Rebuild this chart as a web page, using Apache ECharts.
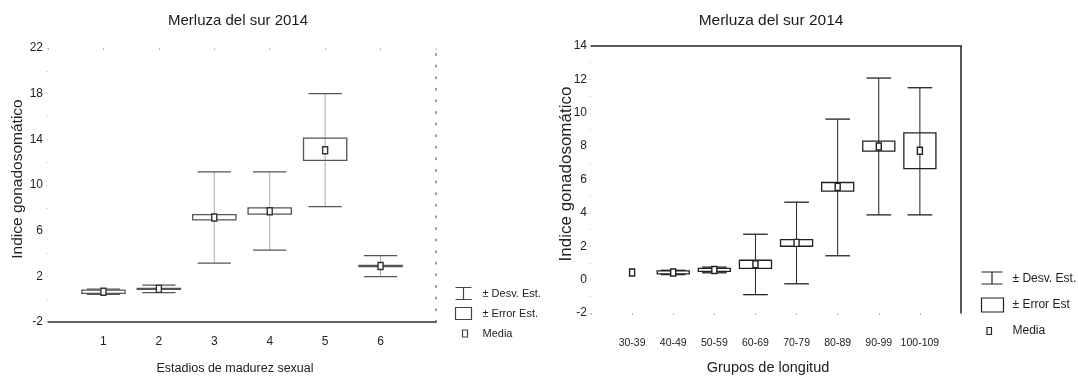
<!DOCTYPE html>
<html>
<head>
<meta charset="utf-8">
<script src="https://cdn.jsdelivr.net/npm/echarts@6/dist/echarts.min.js"></script>
<style>
  html, body { margin: 0; padding: 0; background: #fff; }
  #chart { width: 1078px; height: 380px; }
</style>
</head>
<body>
<div id="chart"></div>
<script>
// panel izquierdo: estadios de madurez sexual
const stages = ['1', '2', '3', '4', '5', '6'];
const stageMean = [0.65, 0.9, 7.15, 7.7, 13.05, 2.9];
const stageSdLow = [0.42, 0.57, 3.15, 4.3, 8.1, 1.98];
const stageSdHigh = [0.88, 1.23, 11.15, 11.15, 18.0, 3.82];
const stageSeLow = [0.5, 0.85, 6.95, 7.45, 12.15, 2.85];
const stageSeHigh = [0.8, 0.95, 7.4, 8.0, 14.1, 2.95];

// panel derecho: grupos de longitud (30-39 has a single value, no spread)
const lengths = ['30-39', '40-49', '50-59', '60-69', '70-79', '80-89', '90-99', '100-109'];
const lenMean = [0.43, 0.43, 0.58, 0.92, 2.2, 5.56, 7.98, 7.72];
const lenSdLow = [null, 0.3, 0.41, -0.9, -0.25, 1.43, 3.88, 3.88];
const lenSdHigh = [null, 0.56, 0.75, 2.72, 4.64, 9.62, 12.08, 11.5];
const lenSeLow = [null, 0.35, 0.5, 0.68, 2.0, 5.3, 7.7, 6.65];
const lenSeHigh = [null, 0.52, 0.68, 1.16, 2.4, 5.82, 8.3, 8.8];

const legendText = {
  sdL: '± Desv. Est.', seL: '± Error Est.', meanL: 'Media',
  sdR: '± Desv. Est.', seR: '± Error Est', meanR: 'Media'
};

const font = "'Liberation Sans', Arial, sans-serif";

const toRows = (means, sdLo, sdHi, seLo, seHi) =>
  means.map((m, i) => [i + 1, m, sdLo[i], sdHi[i], seLo[i], seHi[i]]);

const stageRows = toRows(stageMean, stageSdLow, stageSdHigh, stageSeLow, stageSeHigh);
const lenRows = toRows(lenMean, lenSdLow, lenSdHigh, lenSeLow, lenSeHigh);

const bad = v => v == null || isNaN(v);

function whiskers(color, stemColor) {
  return (params, api) => {
    const x = api.value(0), lo = api.value(2), hi = api.value(3);
    if (bad(lo) || bad(hi)) return;
    const a = api.coord([x, lo]), b = api.coord([x, hi]);
    const half = api.size([1, 0])[0] * 0.3;
    const st = { stroke: color, lineWidth: 1.3 };
    return {
      type: 'group',
      children: [
        { type: 'line', shape: { x1: a[0], y1: a[1], x2: b[0], y2: b[1] }, style: { stroke: stemColor, lineWidth: 1 } },
        { type: 'line', shape: { x1: a[0] - half, y1: a[1], x2: a[0] + half, y2: a[1] }, style: st },
        { type: 'line', shape: { x1: b[0] - half, y1: b[1], x2: b[0] + half, y2: b[1] }, style: st }
      ]
    };
  };
}

function boxes(color) {
  return (params, api) => {
    const x = api.value(0), lo = api.value(4), hi = api.value(5);
    if (bad(lo) || bad(hi)) return;
    const a = api.coord([x, lo]), b = api.coord([x, hi]);
    const half = api.size([1, 0])[0] * 0.39;
    return {
      type: 'rect',
      shape: { x: a[0] - half, y: b[1], width: half * 2, height: a[1] - b[1] },
      style: { fill: 'none', stroke: color, lineWidth: 1.3 }
    };
  };
}

function means(color) {
  return (params, api) => {
    const p = api.coord([api.value(0), api.value(1)]);
    return {
      type: 'rect',
      shape: { x: p[0] - 2.5, y: p[1] - 3.5, width: 5, height: 7 },
      style: { fill: '#fff', stroke: color, lineWidth: 1.4 }
    };
  };
}

const leftColor = '#555';
const rightColor = '#222';
const faint = '#d4d4d4';

const chart = echarts.init(document.getElementById('chart'));

const option = {
  backgroundColor: '#fff',
  animation: false,
  textStyle: { fontFamily: font },
  graphic: [
    { type: 'text', x: 238, y: 21, style: { text: 'Merluza del sur 2014', fontSize: 15, fontFamily: font, fill: '#1a1a1a', align: 'center', verticalAlign: 'middle' } },
    { type: 'text', x: 771, y: 21, style: { text: 'Merluza del sur 2014', fontSize: 15.5, fontFamily: font, fill: '#1a1a1a', align: 'center', verticalAlign: 'middle' } }
  ],
  grid: [
    { left: 48, top: 48, width: 388, height: 278.5 },
    { left: 591, top: 46, width: 370, height: 275 }
  ],
  legend: [
    {
      left: 453, top: 284, orient: 'vertical', padding: 0, itemWidth: 22, itemHeight: 14, itemGap: 1,
      selectedMode: false,
      data: [
        { name: 'sdL', icon: 'path://M0,0 M22,14 M0,1 L16,1 M8,1 L8,13 M0,13 L16,13' },
        { name: 'seL', icon: 'path://M0,0 M22,14 M0,1 L16,1 L16,13 L0,13 Z' },
        { name: 'meanL', icon: 'path://M0,0 M22,14 M7,3.5 L12,3.5 L12,10.5 L7,10.5 Z' }
      ],
      formatter: n => legendText[n],
      itemStyle: { color: 'none', borderColor: '#444', borderWidth: 1.2 },
      textStyle: { fontFamily: font, fontSize: 11, color: '#222' }
    },
    {
      left: 979, top: 268.5, orient: 'vertical', padding: 0, itemWidth: 26, itemHeight: 16, itemGap: 5,
      selectedMode: false,
      data: [
        { name: 'sdR', icon: 'path://M0,0 M26,16 M0,1 L21,1 M10.5,1 L10.5,13 M0,13 L21,13' },
        { name: 'seR', icon: 'path://M0,0 M26,16 M0,1 L22,1 L22,15 L0,15 Z' },
        { name: 'meanR', icon: 'path://M0,0 M26,16 M5.5,4.5 L10,4.5 L10,11.5 L5.5,11.5 Z' }
      ],
      formatter: n => legendText[n],
      itemStyle: { color: 'none', borderColor: '#222', borderWidth: 1.2 },
      textStyle: { fontFamily: font, fontSize: 12, color: '#222' }
    }
  ],
  xAxis: [
    {
      type: 'value', gridIndex: 0, position: 'bottom', min: 0, max: 7, interval: 1,
      axisLine: { show: true, onZero: false, lineStyle: { color: '#333', width: 1.5 } },
      axisTick: { show: false },
      splitLine: { show: false },
      axisLabel: { margin: 14, fontSize: 12, color: '#222', formatter: v => stages[v - 1] || '' },
      name: 'Estadios de madurez sexual', nameLocation: 'middle', nameGap: 40, nameMoveOverlap: false,
      nameTextStyle: { fontSize: 12.5, color: '#222', padding: [0, 14, 0, 0] }
    },
    {
      type: 'value', gridIndex: 0, position: 'top', min: 0, max: 7, interval: 1,
      axisLine: { show: false, onZero: false },
      axisTick: { show: true, inside: true, length: 2, lineStyle: { color: '#bbb' } },
      axisLabel: { show: false }, splitLine: { show: false }
    },
    {
      type: 'value', gridIndex: 1, position: 'bottom', min: 0, max: 9, interval: 1,
      axisLine: { show: false, onZero: false },
      axisTick: { show: true, length: 2, lineStyle: { color: '#bbb' } },
      splitLine: { show: false },
      axisLabel: { margin: 25, fontSize: 10.5, color: '#222', formatter: v => lengths[v - 1] || '' },
      name: 'Grupos de longitud', nameLocation: 'middle', nameGap: 47, nameMoveOverlap: false,
      nameTextStyle: { fontSize: 14.5, color: '#222', padding: [0, 16, 0, 0] }
    },
    {
      type: 'value', gridIndex: 1, position: 'top', min: 0, max: 9, interval: 1,
      axisLine: { show: true, onZero: false, lineStyle: { color: '#222', width: 1.5 } },
      axisTick: { show: false }, axisLabel: { show: false }, splitLine: { show: false }
    }
  ],
  yAxis: [
    {
      type: 'value', gridIndex: 0, position: 'left', min: -2, max: 22, interval: 4,
      axisLine: { show: false, onZero: false },
      axisTick: { show: true, length: 1.5, lineStyle: { color: faint } },
      minorTick: { show: true, splitNumber: 2, length: 1.5, lineStyle: { color: faint } },
      splitLine: { show: false },
      axisLabel: { margin: 5, fontSize: 12, color: '#222' },
      name: 'Indice gonadosomático', nameLocation: 'middle', nameRotate: 90, nameGap: 22, nameMoveOverlap: false,
      nameTextStyle: { fontSize: 15.5, color: '#222', padding: [0, 0, 0, 12] }
    },
    {
      type: 'value', gridIndex: 0, position: 'right', min: -2, max: 22, interval: 4,
      axisLine: { show: true, onZero: false, lineStyle: { color: '#777', width: 1.5, type: [1.5, 10.1] } },
      axisTick: { show: false }, axisLabel: { show: false }, splitLine: { show: false }
    },
    {
      type: 'value', gridIndex: 1, position: 'left', min: -2, max: 14, interval: 2,
      axisLine: { show: false, onZero: false },
      axisTick: { show: true, length: 1.5, lineStyle: { color: faint } },
      minorTick: { show: true, splitNumber: 2, length: 1.5, lineStyle: { color: faint } },
      splitLine: { show: false },
      axisLabel: { margin: 4, fontSize: 12, color: '#222' },
      name: 'Indice gonadosomático', nameLocation: 'middle', nameRotate: 90, nameGap: 16, nameMoveOverlap: false,
      nameTextStyle: { fontSize: 17, color: '#222', padding: [0, 0, 0, 11] }
    },
    {
      type: 'value', gridIndex: 1, position: 'right', min: -2, max: 14, interval: 2,
      axisLine: { show: true, onZero: false, lineStyle: { color: '#222', width: 1.5 } },
      axisTick: { show: false }, axisLabel: { show: false }, splitLine: { show: false }
    }
  ],
  series: [
    { name: 'sdL', type: 'custom', xAxisIndex: 0, yAxisIndex: 0, renderItem: whiskers(leftColor, '#aaa'), encode: { x: 0, y: [1, 2, 3] }, data: stageRows, itemStyle: { color: leftColor } },
    { name: 'seL', type: 'custom', xAxisIndex: 0, yAxisIndex: 0, renderItem: boxes(leftColor), encode: { x: 0, y: [1, 4, 5] }, data: stageRows, itemStyle: { color: leftColor } },
    { name: 'meanL', type: 'custom', xAxisIndex: 0, yAxisIndex: 0, renderItem: means('#333'), encode: { x: 0, y: 1 }, data: stageRows, itemStyle: { color: leftColor } },
    { name: 'sdR', type: 'custom', xAxisIndex: 2, yAxisIndex: 2, renderItem: whiskers(rightColor, rightColor), encode: { x: 0, y: [1, 2, 3] }, data: lenRows, itemStyle: { color: rightColor } },
    { name: 'seR', type: 'custom', xAxisIndex: 2, yAxisIndex: 2, renderItem: boxes(rightColor), encode: { x: 0, y: [1, 4, 5] }, data: lenRows, itemStyle: { color: rightColor } },
    { name: 'meanR', type: 'custom', xAxisIndex: 2, yAxisIndex: 2, renderItem: means(rightColor), encode: { x: 0, y: 1 }, data: lenRows, itemStyle: { color: rightColor } }
  ]
};

chart.setOption(option);
</script>
</body>
</html>
